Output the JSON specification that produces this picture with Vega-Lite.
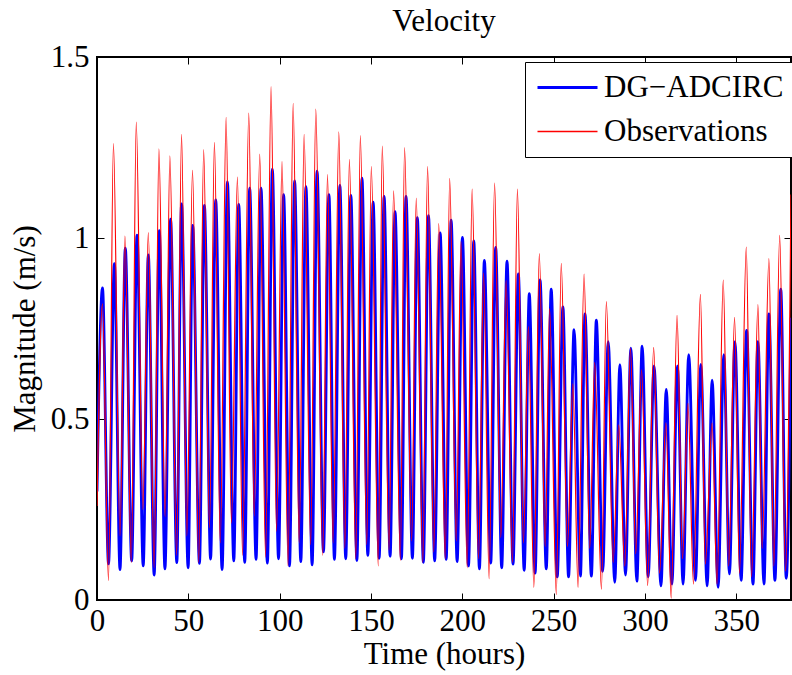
{
  "$schema": "https://vega.github.io/schema/vega-lite/v6.json",
  "width": 694,
  "height": 543,
  "autosize": {"type": "none"},
  "padding": {"left": 97, "top": 57, "right": 1, "bottom": 75},
  "background": "white",
  "config": {
    "font": "Liberation Serif",
    "view": {"stroke": "black", "strokeWidth": 2},
    "axis": {"grid": false, "domain": false, "ticks": true, "tickColor": "black", "tickWidth": 1, "labelColor": "black", "titleColor": "black", "labelFont": "Liberation Serif", "titleFont": "Liberation Serif", "labelFontSize": 31, "titleFontSize": 31, "titleFontWeight": "normal"}
  },
  "title": {"text": "Velocity", "fontSize": 31, "font": "Liberation Serif", "fontWeight": "normal", "color": "black", "offset": 3, "anchor": "middle"},
  "datasets": {
    "model": [
      {"t":0,"v":0.30},{"t":3.0,"v":0.862},{"t":6.3,"v":0.10},{"t":9.5,"v":0.929},{"t":12.6,"v":0.084},{"t":15.5,"v":0.972},{"t":19.0,"v":0.108},{"t":21.9,"v":1.008},{"t":25.3,"v":0.094},{"t":28.1,"v":0.953},{"t":31.3,"v":0.069},{"t":34.1,"v":1.02},{"t":37.2,"v":0.086},{"t":40.3,"v":1.052},{"t":43.7,"v":0.103},{"t":46.3,"v":1.094},{"t":49.9,"v":0.089},{"t":52.4,"v":1.035},{"t":56.1,"v":0.101},{"t":58.8,"v":1.09},{"t":62.2,"v":0.113},{"t":65.0,"v":1.105},{"t":68.5,"v":0.084},{"t":71.4,"v":1.155},{"t":74.9,"v":0.108},{"t":77.6,"v":1.093},{"t":80.9,"v":0.104},{"t":83.6,"v":1.138},{"t":87.1,"v":0.112},{"t":89.8,"v":1.138},{"t":93.3,"v":0.102},{"t":96.0,"v":1.19},{"t":99.4,"v":0.114},{"t":102.2,"v":1.12},{"t":105.4,"v":0.094},{"t":108.2,"v":1.158},{"t":111.6,"v":0.106},{"t":114.4,"v":1.142},{"t":117.8,"v":0.097},{"t":120.5,"v":1.185},{"t":124.0,"v":0.133},{"t":127.0,"v":1.12},{"t":130.0,"v":0.112},{"t":133.0,"v":1.145},{"t":136.2,"v":0.114},{"t":139.0,"v":1.118},{"t":142.3,"v":0.109},{"t":145.1,"v":1.165},{"t":148.3,"v":0.123},{"t":151.2,"v":1.099},{"t":154.5,"v":0.115},{"t":157.2,"v":1.115},{"t":160.5,"v":0.121},{"t":163.2,"v":1.073},{"t":166.7,"v":0.114},{"t":169.2,"v":1.115},{"t":172.7,"v":0.115},{"t":175.4,"v":1.056},{"t":178.7,"v":0.104},{"t":181.5,"v":1.062},{"t":184.9,"v":0.108},{"t":187.9,"v":1.014},{"t":191.2,"v":0.112},{"t":193.9,"v":1.049},{"t":197.2,"v":0.106},{"t":200.1,"v":1.002},{"t":203.4,"v":0.094},{"t":206.3,"v":0.992},{"t":209.4,"v":0.086},{"t":212.1,"v":0.938},{"t":215.6,"v":0.102},{"t":218.3,"v":0.974},{"t":221.6,"v":0.089},{"t":224.5,"v":0.936},{"t":227.8,"v":0.099},{"t":230.7,"v":0.901},{"t":233.9,"v":0.082},{"t":236.7,"v":0.846},{"t":239.9,"v":0.074},{"t":242.6,"v":0.884},{"t":246.0,"v":0.086},{"t":248.7,"v":0.859},{"t":252.0,"v":0.064},{"t":255.1,"v":0.81},{"t":258.2,"v":0.064},{"t":261.2,"v":0.747},{"t":264.7,"v":0.066},{"t":267.2,"v":0.79},{"t":270.7,"v":0.066},{"t":273.4,"v":0.773},{"t":276.9,"v":0.079},{"t":279.9,"v":0.714},{"t":283.5,"v":0.049},{"t":286.3,"v":0.65},{"t":289.4,"v":0.069},{"t":292.3,"v":0.696},{"t":295.6,"v":0.052},{"t":298.5,"v":0.701},{"t":301.8,"v":0.064},{"t":305.0,"v":0.647},{"t":308.8,"v":0.039},{"t":311.7,"v":0.582},{"t":314.8,"v":0.044},{"t":317.8,"v":0.647},{"t":320.9,"v":0.044},{"t":324.0,"v":0.678},{"t":327.7,"v":0.054},{"t":330.6,"v":0.651},{"t":334.1,"v":0.039},{"t":336.8,"v":0.607},{"t":340.1,"v":0.035},{"t":343.2,"v":0.678},{"t":346.3,"v":0.072},{"t":349.3,"v":0.714},{"t":352.7,"v":0.054},{"t":355.7,"v":0.745},{"t":359.2,"v":0.044},{"t":361.9,"v":0.714},{"t":365.2,"v":0.044},{"t":367.9,"v":0.79},{"t":371.2,"v":0.054},{"t":374.4,"v":0.859},{"t":377.4,"v":0.06},{"t":380,"v":0.78}
    ],
    "obs": [
      {"t":0,"v":0.26},{"t":3.0,"v":0.818},{"t":6.3,"v":0.054},{"t":9.0,"v":1.261},{"t":12.6,"v":0.177},{"t":15.3,"v":1.005},{"t":18.8,"v":0.103},{"t":21.5,"v":1.32},{"t":25.1,"v":0.25},{"t":28.1,"v":1.015},{"t":31.3,"v":0.089},{"t":33.9,"v":1.246},{"t":37.3,"v":0.23},{"t":39.9,"v":1.227},{"t":43.6,"v":0.123},{"t":46.3,"v":1.286},{"t":49.2,"v":0.177},{"t":52.3,"v":1.187},{"t":55.7,"v":0.103},{"t":58.4,"v":1.244},{"t":61.6,"v":0.2},{"t":64.3,"v":1.264},{"t":67.5,"v":0.158},{"t":70.7,"v":1.333},{"t":73.6,"v":0.212},{"t":76.9,"v":1.168},{"t":79.7,"v":0.123},{"t":83.1,"v":1.345},{"t":86.1,"v":0.232},{"t":89.1,"v":1.232},{"t":92.3,"v":0.118},{"t":95.3,"v":1.418},{"t":98.3,"v":0.19},{"t":101.3,"v":1.211},{"t":104.6,"v":0.094},{"t":107.4,"v":1.372},{"t":110.7,"v":0.158},{"t":113.4,"v":1.286},{"t":117.0,"v":0.153},{"t":119.8,"v":1.356},{"t":123.6,"v":0.123},{"t":126.2,"v":1.175},{"t":129.3,"v":0.158},{"t":132.4,"v":1.293},{"t":135.7,"v":0.143},{"t":138.2,"v":1.217},{"t":141.7,"v":0.114},{"t":144.2,"v":1.283},{"t":147.7,"v":0.153},{"t":150.2,"v":1.197},{"t":154.0,"v":0.094},{"t":156.2,"v":1.254},{"t":159.9,"v":0.138},{"t":162.4,"v":1.13},{"t":166.1,"v":0.109},{"t":168.4,"v":1.25},{"t":172.3,"v":0.163},{"t":174.8,"v":1.11},{"t":178.4,"v":0.104},{"t":181.0,"v":1.197},{"t":184.4,"v":0.133},{"t":187.1,"v":1.04},{"t":190.7,"v":0.114},{"t":193.1,"v":1.165},{"t":196.7,"v":0.163},{"t":199.3,"v":0.99},{"t":202.7,"v":0.089},{"t":205.4,"v":1.135},{"t":208.9,"v":0.114},{"t":211.7,"v":0.903},{"t":214.7,"v":0.059},{"t":217.7,"v":1.152},{"t":221.1,"v":0.173},{"t":224.0,"v":0.882},{"t":227.5,"v":0.104},{"t":230.2,"v":1.135},{"t":233.5,"v":0.158},{"t":236.2,"v":0.755},{"t":239.2,"v":0.035},{"t":242.2,"v":0.957},{"t":245.4,"v":0.148},{"t":247.8,"v":0.805},{"t":251.5,"v":0.015},{"t":254.2,"v":0.93},{"t":257.6,"v":0.148},{"t":260.6,"v":0.597},{"t":263.4,"v":0.035},{"t":266.7,"v":0.9},{"t":269.8,"v":0.143},{"t":272.5,"v":0.656},{"t":276.2,"v":0.03},{"t":278.9,"v":0.824},{"t":282.6,"v":0.104},{"t":285.7,"v":0.483},{"t":289.0,"v":0.094},{"t":292.1,"v":0.696},{"t":295.0,"v":0.128},{"t":298.2,"v":0.636},{"t":301.5,"v":0.04},{"t":304.8,"v":0.698},{"t":308.0,"v":0.074},{"t":311.5,"v":0.489},{"t":314.4,"v":0.005},{"t":317.6,"v":0.786},{"t":320.6,"v":0.114},{"t":323.6,"v":0.543},{"t":326.6,"v":0.044},{"t":330.4,"v":0.844},{"t":333.1,"v":0.099},{"t":336.8,"v":0.489},{"t":339.5,"v":0.044},{"t":342.9,"v":0.884},{"t":345.9,"v":0.094},{"t":349.1,"v":0.781},{"t":351.8,"v":0.074},{"t":355.5,"v":0.975},{"t":358.4,"v":0.064},{"t":361.9,"v":0.816},{"t":364.2,"v":0.143},{"t":367.9,"v":0.943},{"t":370.6,"v":0.094},{"t":373.8,"v":1.007},{"t":377.0,"v":0.08},{"t":380,"v":1.12}
    ]
  },
  "layer": [
    {
      "data": {"name": "model"},
      "mark": {"type": "line", "interpolate": "monotone", "clip": true, "strokeWidth": 2.8},
      "encoding": {
        "x": {"field": "t", "type": "quantitative", "scale": {"domain": [0, 380], "nice": false, "zero": false},
              "axis": {"orient": "bottom", "values": [0,50,100,150,200,250,300,350], "tickSize": -7, "labelPadding": 13, "title": "Time (hours)", "titlePadding": 3, "labelFlush": false}},
        "y": {"field": "v", "type": "quantitative", "scale": {"domain": [0, 1.5], "nice": false},
              "axis": {"orient": "left", "values": [0,0.5,1,1.5], "labelExpr": "datum.value", "tickSize": -7, "labelPadding": 15, "title": "Magnitude (m/s)", "titlePadding": 9, "labelFlush": false}},
        "color": {"datum": "DG−ADCIRC", "type": "nominal",
                  "scale": {"domain": ["DG−ADCIRC", "Observations"], "range": ["#0000ff", "#ff0000"]},
                  "legend": {"orient": "none", "legendX": 428, "legendY": 5, "title": null, "symbolType": "stroke", "symbolSize": 3600, "symbolOffset": 17, "symbolOpacity": 1, "labelFontSize": 31, "labelFont": "Liberation Serif", "labelColor": "black", "labelOffset": 21, "labelLimit": 0, "padding": 10, "rowPadding": 12, "strokeColor": "black", "fillColor": "white",
                             "encode": {"symbols": {"update": {"strokeWidth": {"signal": "datum.value === 'DG−ADCIRC' ? 3 : 1.4"}, "stroke": {"signal": "datum.value === 'DG−ADCIRC' ? '#0000ff' : '#ff2020'"}, "opacity": {"value": 1}, "strokeOpacity": {"value": 1}}}}}}
      }
    },
    {
      "data": {"name": "obs"},
      "mark": {"type": "line", "interpolate": "monotone", "clip": true, "strokeWidth": 1.2},
      "encoding": {
        "x": {"field": "t", "type": "quantitative", "axis": {"orient": "top", "values": [0,50,100,150,200,250,300,350], "tickSize": -7, "labels": false, "title": null}},
        "y": {"field": "v", "type": "quantitative", "axis": {"orient": "right", "values": [0,0.5,1,1.5], "tickSize": -7, "labels": false, "title": null}},
        "color": {"datum": "Observations", "type": "nominal"}
      }
    }
  ],
  "resolve": {"axis": {"x": "independent", "y": "independent"}}
}
